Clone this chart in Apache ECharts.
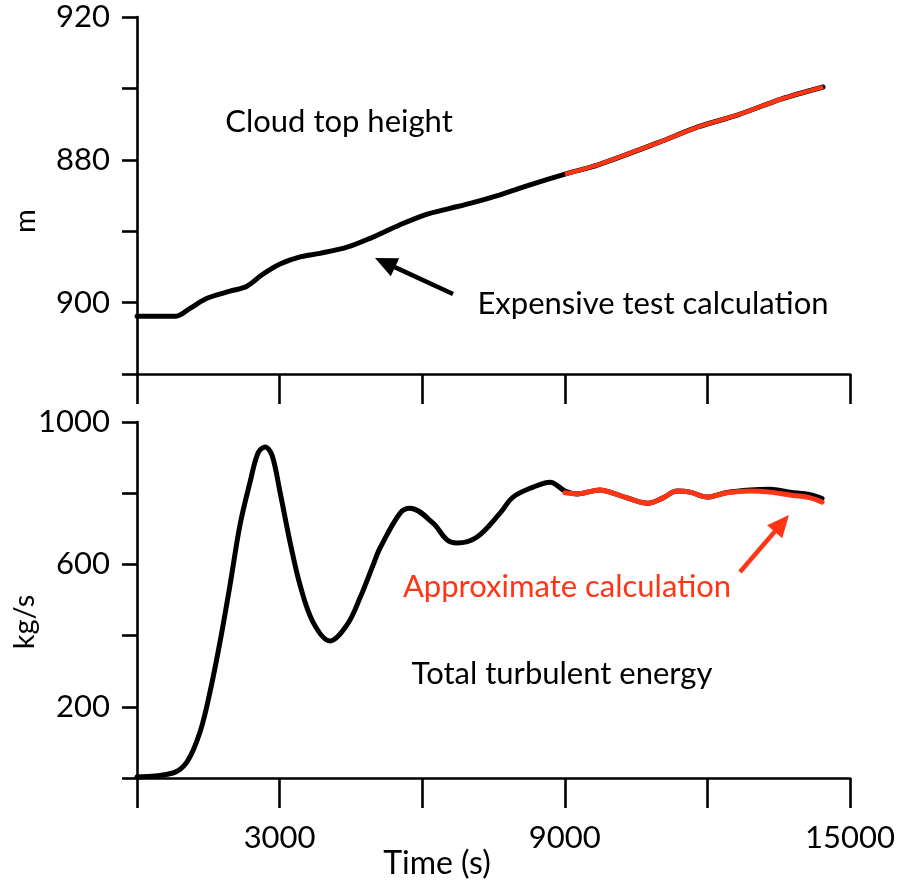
<!DOCTYPE html>
<html><head><meta charset="utf-8">
<script src="https://cdn.jsdelivr.net/npm/echarts@6/dist/echarts.min.js"></script>
<style>html,body{margin:0;padding:0;background:#fff}#c{width:898px;height:887px}</style>
</head><body><div id="c"></div>
<script>
// ---- data ----
const heightTimes = [0, 820, 1115, 1473, 1957, 2314, 2630, 3009, 3430, 3850, 4439, 4902, 5533, 6060, 6586, 7007, 7638, 8269, 9005, 9700, 10962, 11803, 12645, 13550, 14433];
const heightExpensive = [878.1, 878.1, 879.2, 880.6, 881.6, 882.3, 883.9, 885.4, 886.4, 886.9, 887.8, 889.0, 890.9, 892.3, 893.2, 893.9, 895.1, 896.5, 898.0, 899.3, 902.4, 904.6, 906.3, 908.5, 910.2];
const approxHeightTimes = [9005, 9700, 10962, 11803, 12645, 13550, 14433];
const heightApprox = [898.0, 899.3, 902.4, 904.6, 906.3, 908.5, 910.2];

const energyTimes = [0, 757, 1052, 1326, 1536, 1746, 1957, 2167, 2378, 2546, 2693, 2840, 3009, 3219, 3430, 3703, 4061, 4418, 4692, 4966, 5113, 5533, 5744, 6228, 6522, 6733, 7154, 7638, 7911, 8332, 8690, 9005, 9258, 9742, 9952, 10310, 10751, 11067, 11362, 11635, 11993, 12414, 12898, 13319, 13739, 14160, 14412];
const energyExpensive = [3, 14, 45, 129, 242, 382, 542, 711, 831, 913, 930, 907, 803, 663, 542, 438, 385, 430, 506, 598, 646, 744, 758, 716, 669, 660, 677, 744, 789, 817, 831, 806, 798, 809, 803, 787, 772, 787, 806, 803, 789, 802, 809, 811, 803, 796, 785];
const approxEnergyTimes = [9005, 9258, 9742, 9952, 10310, 10751, 11067, 11362, 11635, 11993, 12414, 12898, 13319, 13739, 14160, 14412];
const energyApprox = [801, 798, 809, 803, 787, 772, 787, 806, 803, 789, 801, 806, 803, 795, 787, 775];

const xTickLabels = {3000: '3000', 9000: '9000', 15000: '15000'};
const topTickValues = [920, 900, 880];
const topTickLabels = ['920', '880', '900'];
const bottomTickLabels = {1000: '1000', 600: '600', 200: '200'};

// ---- chart ----
const FONT = 'Lato';
const RED = '#ff3516';
const zip = (xs, ys) => xs.map((x, i) => [x, ys[i]]);

function arrow(tail, tip, color, w, headLen, headW) {
  const dx = tip[0] - tail[0], dy = tip[1] - tail[1];
  const L = Math.hypot(dx, dy), ux = dx / L, uy = dy / L;
  const bx = tip[0] - ux * headLen, by = tip[1] - uy * headLen;
  const px = -uy, py = ux;
  return [
    {type: 'line', shape: {x1: tail[0], y1: tail[1], x2: bx + ux * 2, y2: by + uy * 2}, style: {stroke: color, lineWidth: w}, z: 10},
    {type: 'polygon', shape: {points: [tip, [bx + px * headW / 2, by + py * headW / 2], [bx - px * headW / 2, by - py * headW / 2]]}, style: {fill: color}, z: 10}
  ];
}

const axisLine = {show: true, lineStyle: {color: '#000', width: 2.6}};
const xAxisCommon = {
  type: 'value', min: 0, max: 15000, interval: 3000,
  axisLine: axisLine,
  axisTick: {show: true, length: 30, lineStyle: {color: '#000', width: 2.6}},
  splitLine: {show: false}
};
const yAxisCommon = {
  type: 'value',
  axisLine: axisLine,
  axisTick: {show: true, length: 15, lineStyle: {color: '#000', width: 2.6}},
  splitLine: {show: false},
  axisLabel: {color: '#000', fontFamily: FONT, fontSize: 31, margin: 27}
};

const chart = echarts.init(document.getElementById('c'), null, {renderer: 'canvas'});
chart.setOption({
  animation: false,
  backgroundColor: '#fff',
  grid: [
    {left: 137, top: 17, width: 713, height: 357},
    {left: 137, top: 422, width: 713, height: 356}
  ],
  xAxis: [
    Object.assign({}, xAxisCommon, {gridIndex: 0, axisLabel: {show: false}}),
    Object.assign({}, xAxisCommon, {gridIndex: 1, axisLabel: {show: true, color: '#000', fontFamily: FONT, fontSize: 31, margin: 44,
      showMinLabel: true, showMaxLabel: true, formatter: v => xTickLabels[v] || ''}})
  ],
  yAxis: [
    Object.assign({}, yAxisCommon, {gridIndex: 0, min: 870, max: 920, interval: 10,
      axisLabel: Object.assign({}, yAxisCommon.axisLabel, {formatter: v => { const i = topTickValues.indexOf(v); return i >= 0 ? topTickLabels[i] : ''; }})}),
    Object.assign({}, yAxisCommon, {gridIndex: 1, min: 0, max: 1000, interval: 200,
      axisLabel: Object.assign({}, yAxisCommon.axisLabel, {formatter: v => bottomTickLabels[v] || ''})})
  ],
  series: [
    {type: 'line', xAxisIndex: 0, yAxisIndex: 0, data: zip(heightTimes, heightExpensive), smooth: 0.3, showSymbol: false, lineStyle: {color: '#000', width: 5, cap: 'round', join: 'round'}, z: 2},
    {type: 'line', xAxisIndex: 0, yAxisIndex: 0, data: zip(approxHeightTimes, heightApprox), smooth: 0.3, showSymbol: false, lineStyle: {color: RED, width: 4.3, join: 'round'}, z: 3},
    {type: 'line', xAxisIndex: 1, yAxisIndex: 1, data: zip(energyTimes, energyExpensive), smooth: 0.35, showSymbol: false, lineStyle: {color: '#000', width: 5, cap: 'round', join: 'round'}, z: 2},
    {type: 'line', xAxisIndex: 1, yAxisIndex: 1, data: zip(approxEnergyTimes, energyApprox), smooth: 0.35, showSymbol: false, lineStyle: {color: RED, width: 5, cap: 'round', join: 'round'}, z: 3}
  ],
  graphic: [
    {type: 'text', x: 339, y: 122, style: {text: 'Cloud top height', font: '31px ' + FONT, fill: '#000', textAlign: 'center', textVerticalAlign: 'middle'}},
    {type: 'text', x: 653, y: 304, style: {text: 'Expensive test calculation', font: '31px ' + FONT, fill: '#000', textAlign: 'center', textVerticalAlign: 'middle'}},
    {type: 'text', x: 567, y: 587, style: {text: 'Approximate calculation', font: '31px ' + FONT, fill: RED, textAlign: 'center', textVerticalAlign: 'middle'}},
    {type: 'text', x: 562, y: 674, style: {text: 'Total turbulent energy', font: '31px ' + FONT, fill: '#000', textAlign: 'center', textVerticalAlign: 'middle'}},
    {type: 'text', x: 437, y: 864, style: {text: 'Time (s)', font: '32px ' + FONT, fill: '#000', textAlign: 'center', textVerticalAlign: 'middle'}},
    {type: 'text', x: 26, y: 221, rotation: Math.PI / 2, style: {text: 'm', font: '29px ' + FONT, fill: '#000', textAlign: 'center', textVerticalAlign: 'middle'}},
    {type: 'text', x: 25, y: 622, rotation: Math.PI / 2, style: {text: 'kg/s', font: '29px ' + FONT, fill: '#000', textAlign: 'center', textVerticalAlign: 'middle'}}
  ].concat(arrow([453, 294], [375, 258], '#000', 4.5, 22, 20))
   .concat(arrow([740, 572], [789, 515], RED, 4.5, 22, 20))
});
</script></body></html>
